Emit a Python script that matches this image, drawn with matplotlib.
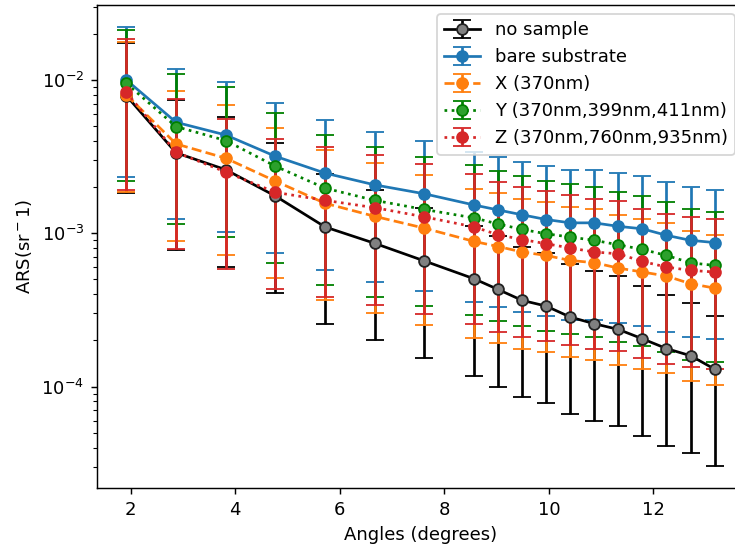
import matplotlib
matplotlib.use("Agg")
import matplotlib.pyplot as plt
import numpy as np

angles = [1.92, 2.87, 3.82, 4.77, 5.72, 6.67, 7.62, 8.57, 9.03, 9.49,
          9.95, 10.41, 10.87, 11.33, 11.79, 12.25, 12.71, 13.17]

# no sample
ns_val = [7.9e-3, 3.35e-3, 2.6e-3, 1.75e-3, 1.1e-3, 8.6e-4, 6.6e-4, 5.05e-4, 4.3e-4,
          3.65e-4, 3.35e-4, 2.84e-4, 2.57e-4, 2.36e-4, 2.05e-4, 1.77e-4, 1.59e-4, 1.30e-4]
ns_hi = [1.754e-2, 7.44e-3, 5.77e-3, 3.89e-3, 2.44e-3, 1.91e-3, 1.47e-3, 1.12e-3, 9.55e-4,
         8.10e-4, 7.44e-4, 6.30e-4, 5.71e-4, 5.24e-4, 4.55e-4, 3.93e-4, 3.53e-4, 2.89e-4]
ns_lo = [1.841e-3, 7.81e-4, 6.06e-4, 4.08e-4, 2.56e-4, 2.00e-4, 1.54e-4, 1.18e-4, 1.00e-4,
         8.50e-5, 7.81e-5, 6.62e-5, 5.99e-5, 5.50e-5, 4.78e-5, 4.12e-5, 3.70e-5, 3.03e-5]

# bare substrate
bs_val = [1.0e-2, 5.3e-3, 4.38e-3, 3.18e-3, 2.47e-3, 2.07e-3, 1.81e-3, 1.53e-3, 1.42e-3,
          1.32e-3, 1.23e-3, 1.17e-3, 1.17e-3, 1.11e-3, 1.07e-3, 9.7e-4, 9.0e-4, 8.7e-4]
bs_hi = [2.22e-2, 1.177e-2, 9.72e-3, 7.06e-3, 5.48e-3, 4.60e-3, 4.02e-3, 3.40e-3, 3.15e-3,
         2.93e-3, 2.73e-3, 2.60e-3, 2.60e-3, 2.46e-3, 2.38e-3, 2.15e-3, 2.00e-3, 1.93e-3]
bs_lo = [2.33e-3, 1.235e-3, 1.02e-3, 7.41e-4, 5.76e-4, 4.82e-4, 4.22e-4, 3.56e-4, 3.31e-4,
         3.08e-4, 2.87e-4, 2.73e-4, 2.73e-4, 2.59e-4, 2.49e-4, 2.26e-4, 2.10e-4, 2.03e-4]

# X (370nm)
x_val = [8.0e-3, 3.83e-3, 3.09e-3, 2.19e-3, 1.57e-3, 1.29e-3, 1.08e-3, 8.85e-4, 8.2e-4,
         7.55e-4, 7.17e-4, 6.65e-4, 6.43e-4, 5.93e-4, 5.59e-4, 5.26e-4, 4.69e-4, 4.39e-4]
x_hi = [1.776e-2, 8.50e-3, 6.86e-3, 4.86e-3, 3.49e-3, 2.86e-3, 2.40e-3, 1.96e-3, 1.82e-3,
        1.68e-3, 1.59e-3, 1.48e-3, 1.43e-3, 1.32e-3, 1.24e-3, 1.17e-3, 1.04e-3, 9.75e-4]
x_lo = [1.86e-3, 8.92e-4, 7.20e-4, 5.10e-4, 3.66e-4, 3.01e-4, 2.52e-4, 2.06e-4, 1.91e-4,
        1.76e-4, 1.67e-4, 1.55e-4, 1.50e-4, 1.38e-4, 1.30e-4, 1.23e-4, 1.09e-4, 1.02e-4]

# Y (370nm,399nm,411nm)
y_val = [9.5e-3, 4.97e-3, 4.03e-3, 2.74e-3, 1.97e-3, 1.64e-3, 1.43e-3, 1.26e-3, 1.15e-3,
         1.06e-3, 9.93e-4, 9.45e-4, 9.0e-4, 8.41e-4, 7.85e-4, 7.17e-4, 6.42e-4, 6.17e-4]
y_hi = [2.11e-2, 1.103e-2, 8.95e-3, 6.08e-3, 4.37e-3, 3.64e-3, 3.17e-3, 2.80e-3, 2.55e-3,
        2.35e-3, 2.20e-3, 2.10e-3, 2.00e-3, 1.87e-3, 1.74e-3, 1.59e-3, 1.43e-3, 1.37e-3]
y_lo = [2.21e-3, 1.158e-3, 9.39e-4, 6.38e-4, 4.59e-4, 3.82e-4, 3.33e-4, 2.94e-4, 2.68e-4,
        2.47e-4, 2.31e-4, 2.20e-4, 2.10e-4, 1.96e-4, 1.83e-4, 1.67e-4, 1.50e-4, 1.44e-4]

# Z (370nm,760nm,935nm)
z_val = [8.3e-3, 3.38e-3, 2.51e-3, 1.85e-3, 1.64e-3, 1.47e-3, 1.28e-3, 1.10e-3, 9.78e-4,
         9.11e-4, 8.55e-4, 8.02e-4, 7.55e-4, 7.35e-4, 6.55e-4, 6.02e-4, 5.73e-4, 5.59e-4]
z_hi = [1.843e-2, 7.50e-3, 5.57e-3, 4.11e-3, 3.64e-3, 3.26e-3, 2.84e-3, 2.44e-3, 2.17e-3,
        2.02e-3, 1.90e-3, 1.78e-3, 1.68e-3, 1.63e-3, 1.45e-3, 1.34e-3, 1.27e-3, 1.24e-3]
z_lo = [1.93e-3, 7.88e-4, 5.85e-4, 4.31e-4, 3.82e-4, 3.43e-4, 2.98e-4, 2.56e-4, 2.28e-4,
        2.12e-4, 1.99e-4, 1.87e-4, 1.76e-4, 1.71e-4, 1.53e-4, 1.40e-4, 1.34e-4, 1.30e-4]

labels = ["no sample", "bare substrate", "X (370nm)", "Y (370nm,399nm,411nm)",
          "Z (370nm,760nm,935nm)"]

DPI = 130
fig = plt.figure(figsize=(735 / DPI, 548 / DPI), dpi=DPI)
ax = fig.add_axes([97 / 735, 60 / 548, 647 / 735, 483 / 548])


def yerr(val, lo, hi):
    v = np.array(val)
    return [v - np.array(lo), np.array(hi) - v]


ax.errorbar(angles, ns_val, yerr=yerr(ns_val, ns_lo, ns_hi), fmt='o-', color='black',
            mfc='grey', mec='#222222', capsize=5, label=labels[0])
ax.errorbar(angles, bs_val, yerr=yerr(bs_val, bs_lo, bs_hi), fmt='o-', color='tab:blue',
            capsize=5, label=labels[1])
ax.errorbar(angles, x_val, yerr=yerr(x_val, x_lo, x_hi), fmt='o--', color='tab:orange',
            capsize=5, label=labels[2])
ax.errorbar(angles, y_val, yerr=yerr(y_val, y_lo, y_hi), fmt='o:', color='green',
            mfc='tab:green', mec='green', capsize=5, label=labels[3])
ax.errorbar(angles, z_val, yerr=yerr(z_val, z_lo, z_hi), fmt='o:', color='tab:red',
            capsize=5, label=labels[4])

ax.set_yscale('log')
ax.set_xlabel('Angles (degrees)')
ax.set_ylabel('ARS(sr$^-1$)')
ax.legend(loc='upper right')

fig.savefig('out.png', dpi=DPI)
